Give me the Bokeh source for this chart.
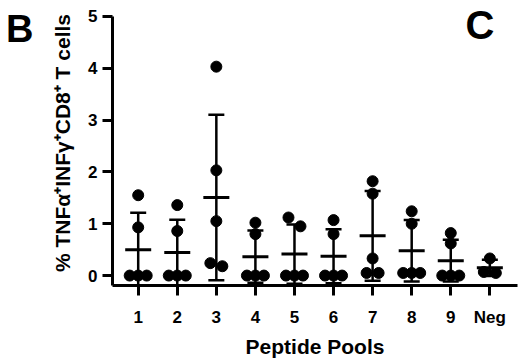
import numpy as np
from bokeh.plotting import figure
from bokeh.layouts import row
from bokeh.models import Range1d, FixedTicker, Label, ColumnDataSource
from bokeh.embed import file_html
from bokeh.resources import INLINE

# ---- data ----
pools = ["1", "2", "3", "4", "5", "6", "7", "8", "9", "Neg"]
pool1 = [1.55, 0.93, 0.0, 0.0, 0.0]
pool2 = [1.36, 0.86, 0.0, 0.0, 0.0]
pool3 = [4.03, 2.03, 1.05, 0.24, 0.18]
pool4 = [1.02, 0.80, 0.0, 0.0, 0.0]
pool5 = [1.12, 0.95, 0.0, 0.0, 0.0]
pool6 = [1.07, 0.80, 0.0, 0.0, 0.0]
pool7 = [1.82, 1.58, 0.33, 0.05, 0.05]
pool8 = [1.24, 1.00, 0.05, 0.05, 0.05]
pool9 = [0.82, 0.62, 0.0, 0.0, 0.0]
pool_neg = [0.33, 0.07, 0.05]
groups = [pool1, pool2, pool3, pool4, pool5, pool6, pool7, pool8, pool9, pool_neg]
y_ticks = [0, 1, 2, 3, 4, 5]
y_top = 5

# ---- layout ----
LW = 45                      # narrow panel holding the "B"
W, H = 519 - LW, 360
BL, BR, BT, BB = 67, 2, 0, 73
PXU_X = 39.07                # px per category
PXU_Y = 52.2                 # px per unit on y
X0 = 1 - 25.7 / PXU_X
X1 = X0 + (W - BL - BR) / PXU_X
Y0 = y_top - 271 / PXU_Y
Y1 = y_top + 16 / PXU_Y
DX = 1 / PXU_X
DY = 1 / PXU_Y

def page_x(px):
    return X0 + (px - LW - BL) * DX

def page_y(py):
    return Y1 - (py - BT) * DY

FONT = "Liberation Sans"

p = figure(width=W, height=H, x_range=Range1d(X0, X1), y_range=Range1d(Y0, Y1),
           output_backend="svg", toolbar_location=None,
           min_border_left=BL, min_border_right=BR, min_border_top=BT, min_border_bottom=BB)
p.outline_line_color = None
p.xgrid.visible = False
p.ygrid.visible = False
p.background_fill_color = "white"
p.border_fill_color = "white"

for ax in (p.xaxis[0], p.yaxis[0]):
    ax.axis_line_width = 3
    ax.axis_line_color = "black"
    ax.major_tick_line_width = 3
    ax.major_tick_line_color = "black"
    ax.major_tick_out = 10
    ax.major_tick_in = 0
    ax.minor_tick_line_color = None
    ax.major_label_text_font = FONT
    ax.major_label_text_font_style = "bold"
    ax.major_label_text_font_size = "17px"
    ax.major_label_text_color = "black"
    ax.axis_label_text_font = FONT
    ax.axis_label_text_font_style = "bold"
    ax.axis_label_text_color = "black"

p.xaxis.ticker = FixedTicker(ticks=list(range(1, len(pools) + 1)))
p.xaxis.major_label_overrides = {i + 1: name for i, name in enumerate(pools)}
p.xaxis.major_label_standoff = 12
p.xaxis.axis_label = "Peptide Pools"
p.xaxis.axis_label_text_font_size = "21px"
p.xaxis.axis_label_standoff = 5

p.yaxis.ticker = FixedTicker(ticks=y_ticks)
p.yaxis.bounds = (Y0, y_top)
p.yaxis.major_label_standoff = 5
p.yaxis.axis_label = "% TNFα⁺INFγ⁺CD8⁺ T cells"
p.yaxis.axis_label_text_font_size = "21px"
p.yaxis.axis_label_standoff = 11

# ---- swarm offsets ----
def swarm(vals, thr_px=10.0):
    n = len(vals)
    order = sorted(range(n), key=lambda i: -vals[i])
    rows = []
    for i in order:
        if rows and (vals[rows[-1][0]] - vals[i]) / DY < thr_px:
            rows[-1].append(i)
        else:
            rows.append([i])
    offs = [0.0] * n
    for r in rows:
        k = len(r)
        step = 12.0 if k == 2 else 8.5
        for j, i in enumerate(r):
            offs[i] = (j - (k - 1) / 2) * step * DX
    return offs

px, py = [], []
gx, gmean, glo, ghi = [], [], [], []
for gi, vals in enumerate(groups):
    xc = gi + 1
    offs = swarm(vals)
    for v, o in zip(vals, offs):
        px.append(xc + o)
        py.append(v)
    arr = np.array(vals, dtype=float)
    m = arr.mean()
    sd = arr.std(ddof=1)
    gx.append(xc)
    gmean.append(m)
    glo.append(m - sd)
    ghi.append(m + sd)

pts = ColumnDataSource(dict(x=px, y=py))
p.scatter("x", "y", source=pts, size=11, fill_color="black", line_color="black")

stats = ColumnDataSource(dict(x=gx, mean=gmean, lo=glo, hi=ghi))
p.segment(x0="x", y0="lo", x1="x", y1="hi", source=stats, line_width=2.5, line_color="black")
p.scatter("x", "hi", source=stats, marker="dash", size=16, line_width=2.5, line_color="black")
p.scatter("x", "lo", source=stats, marker="dash", size=16, line_width=2.5, line_color="black")
p.scatter("x", "mean", source=stats, marker="dash", size=26, line_width=3, line_color="black")

p.add_layout(Label(x=page_x(465), y=page_y(25), text="C", text_font=FONT,
                   text_font_style="bold", text_font_size="40px", text_align="left",
                   text_baseline="middle", text_color="black"))

# ---- narrow left panel with the "B" ----
pb = figure(width=LW, height=H, x_range=Range1d(0, LW), y_range=Range1d(H, 0),
            output_backend="svg", toolbar_location=None, x_axis_type=None, y_axis_type=None,
            min_border_left=0, min_border_right=0, min_border_top=0, min_border_bottom=0)
pb.outline_line_color = None
pb.xgrid.visible = False
pb.ygrid.visible = False
pb.add_layout(Label(x=5.5, y=36, text="B", text_font=FONT, text_font_style="bold",
                    text_font_size="38px", text_align="left", text_baseline="alphabetic",
                    text_color="black"))

layout = row(pb, p, spacing=0)
open("out.html", "w").write(file_html(layout, INLINE))
